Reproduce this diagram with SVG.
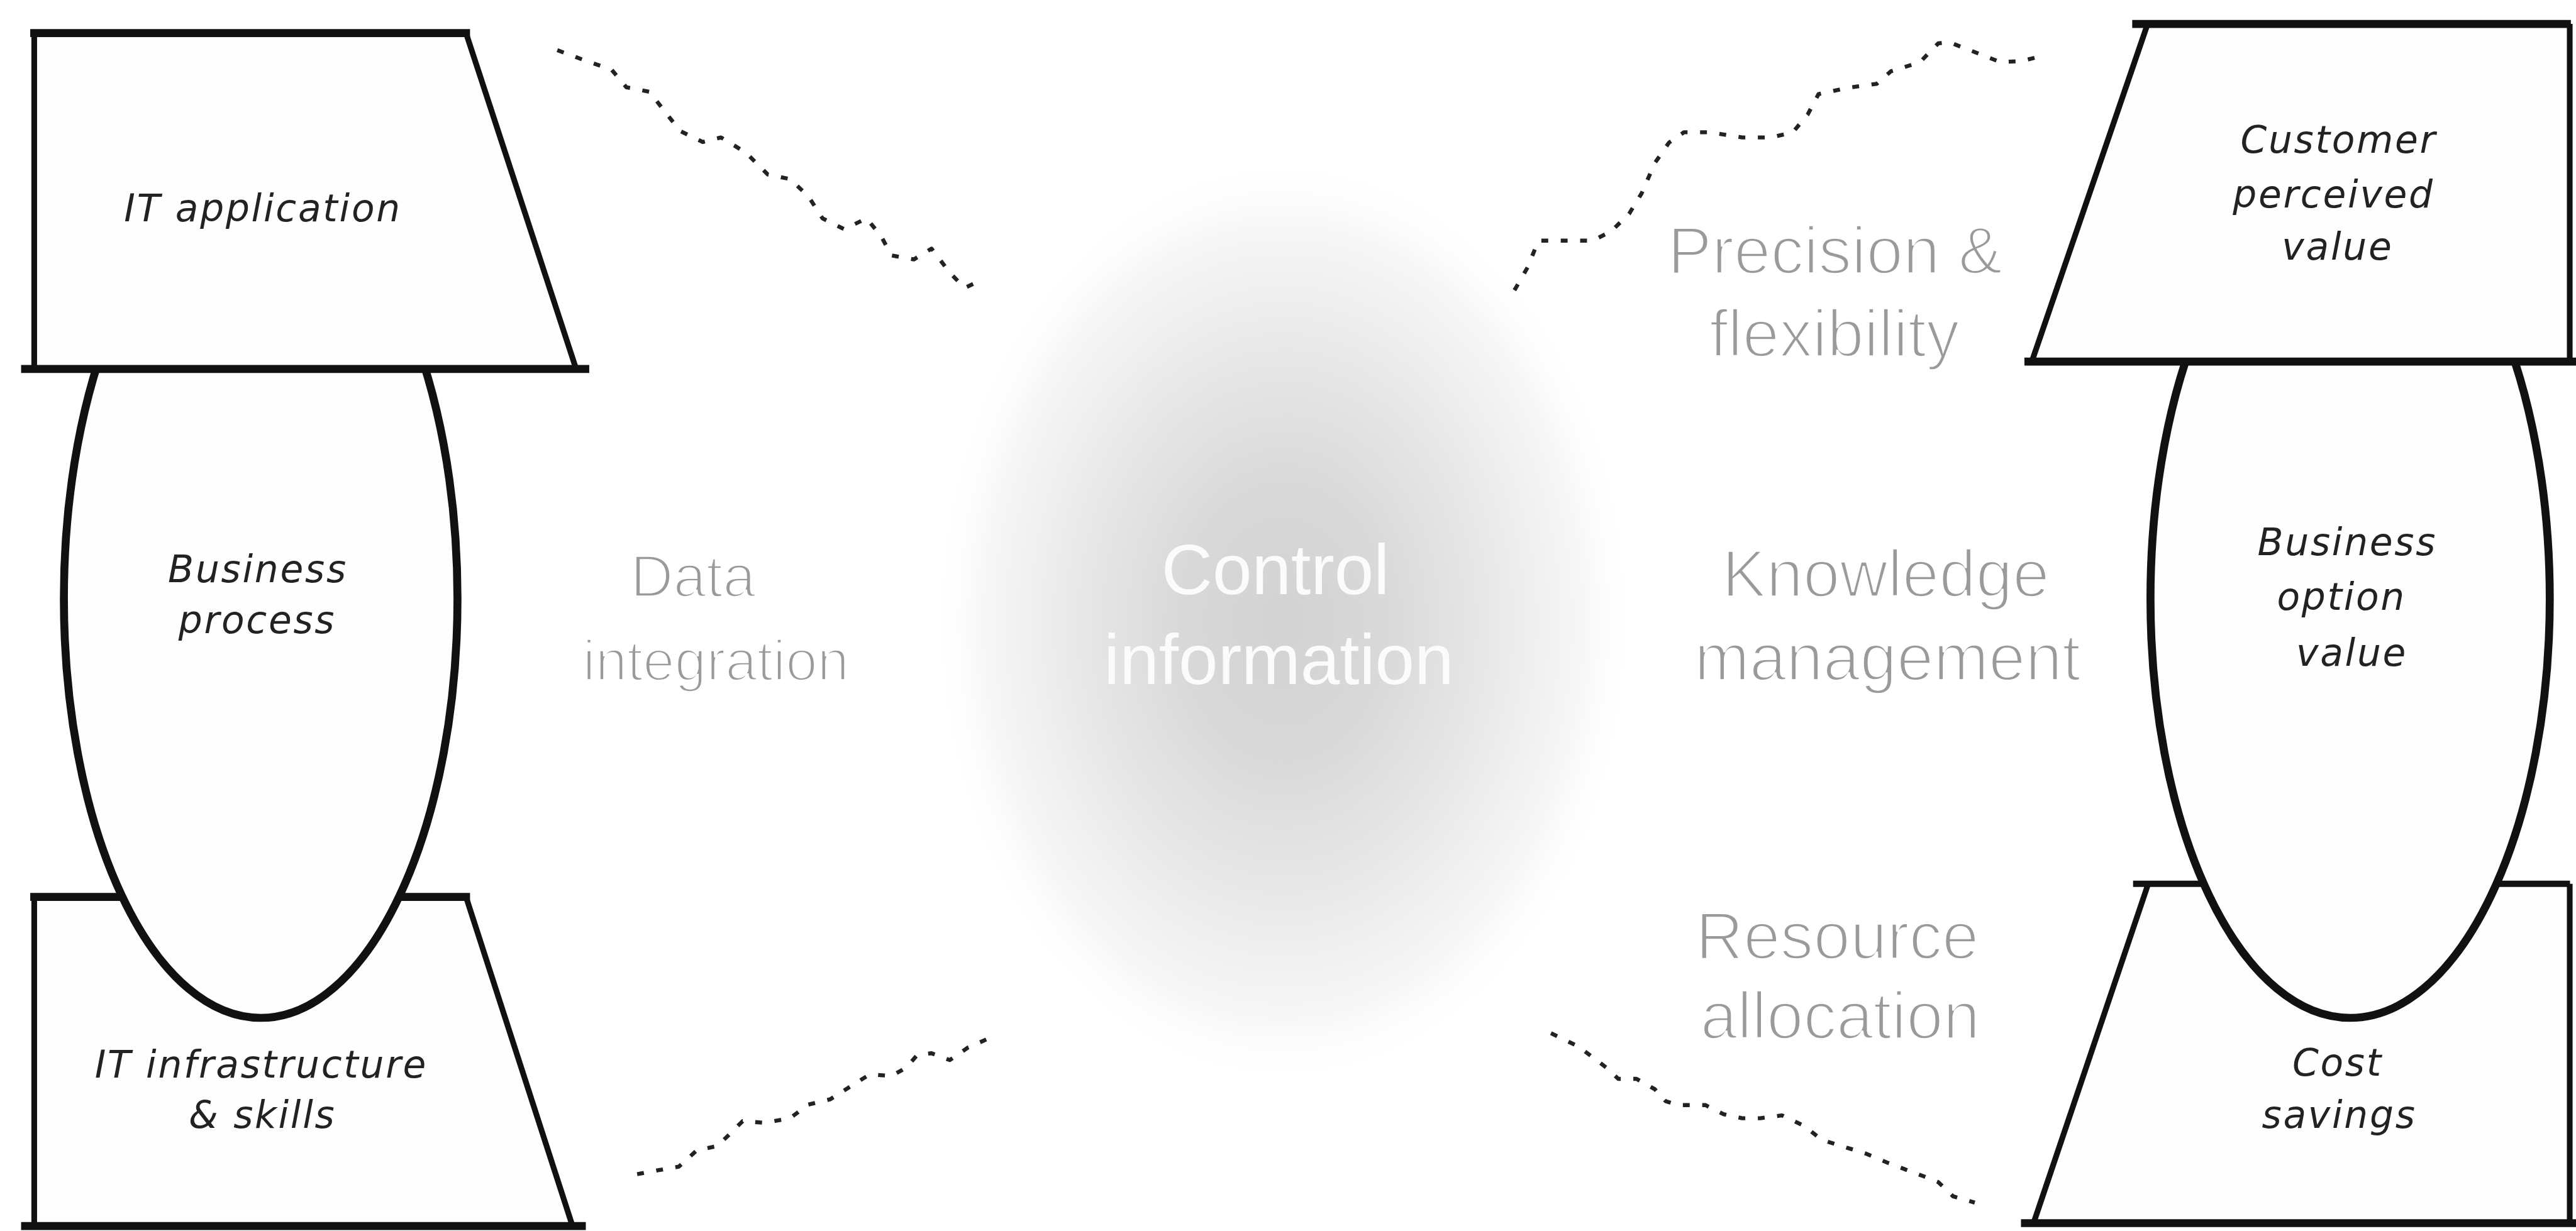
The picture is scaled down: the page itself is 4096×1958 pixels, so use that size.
<svg xmlns="http://www.w3.org/2000/svg" width="4096" height="1958" viewBox="0 0 4096 1958">
<defs>
<radialGradient id="glow" cx="0.5" cy="0.5" r="0.5">
<stop offset="0" stop-color="#d2d2d2"/>
<stop offset="0.3" stop-color="#d9d9d9"/>
<stop offset="0.6" stop-color="#e9e9e9"/>
<stop offset="0.85" stop-color="#f7f7f7"/>
<stop offset="1" stop-color="#ffffff" stop-opacity="0"/>
</radialGradient>
<style>
.edge{stroke:#111;stroke-width:14;stroke-linecap:square;fill:none}
.side{stroke:#111;stroke-width:10;fill:none}
.fillw{fill:#fefefe;stroke:none}
.oval{fill:#fefefe;stroke:#111;stroke-width:14}
.lbl{font-family:"DejaVu Sans","Liberation Sans",sans-serif;font-style:italic;font-size:66px;fill:#222;text-anchor:middle;letter-spacing:3px}
.gray{font-family:"Liberation Sans",Arial,sans-serif;font-size:116px;fill:#9a9a9a;stroke:#ffffff;stroke-width:4;text-anchor:middle}
.ctr{font-family:"Liberation Sans",Arial,sans-serif;font-size:124px;fill:#fbfbfb;text-anchor:middle}
.dash{fill:none;stroke:#222;stroke-width:7;stroke-dasharray:12 22;stroke-linejoin:round}
</style>
</defs>
<rect width="4096" height="1958" fill="#ffffff"/>
<g transform="scale(0.907)">
<g id="control-information">
<ellipse cx="2250" cy="1090" rx="620" ry="820" fill="url(#glow)"/>
<text class="ctr" x="2236" y="1042">Control</text>
<text class="ctr" x="2242" y="1200">information</text>
</g>
<g id="labels">
<text class="gray" x="1215" y="1046" style="font-size:104px">Data</text>
<text class="gray" x="1255" y="1193" style="font-size:100px">integration</text>
<text class="gray" x="3217" y="480">Precision &amp;</text>
<text class="gray" x="3216" y="625">flexibility</text>
<text class="gray" x="3306" y="1046">Knowledge</text>
<text class="gray" x="3309" y="1193">management</text>
<text class="gray" x="3221" y="1681">Resource</text>
<text class="gray" x="3226" y="1821">allocation</text>
</g>
<g id="connectors">
<polyline class="dash" points="977,88 1028,107 1072,122 1098,153 1139,161 1168,199 1193,230 1232,249 1264,241 1308,268 1346,306 1385,314 1417,344 1442,383 1480,402 1519,383 1544,413 1563,448 1602,455 1633,436 1665,478 1691,505 1723,490"/>
<polyline class="dash" points="2655,509 2678,469 2697,422 2741,422 2792,422 2824,406 2856,375 2878,339 2901,286 2926,250 2952,232 2996,232 3054,241 3105,241 3143,232 3169,201 3188,165 3239,154 3290,147 3315,125 3366,109 3398,76 3417,74 3456,89 3507,109 3545,107 3580,98"/>
<polyline class="dash" points="1117,2059 1155,2052 1190,2046 1222,2017 1257,2010 1276,1992 1302,1966 1340,1969 1385,1961 1417,1937 1455,1928 1493,1904 1525,1884 1563,1887 1589,1872 1608,1850 1633,1847 1665,1859 1697,1837 1729,1823"/>
<polyline class="dash" points="2719,1812 2767,1835 2821,1876 2837,1892 2869,1892 2901,1910 2920,1931 2942,1938 2990,1938 3003,1945 3022,1954 3054,1961 3086,1961 3124,1956 3162,1974 3194,1999 3271,2023 3309,2039 3354,2056 3373,2063 3398,2073 3424,2098 3462,2109"/>
</g>
<g id="it-infrastructure">
<polygon class="fillw" points="60,1573 817,1573 1003,2148 60,2148"/>
<line class="side" x1="60" y1="1573" x2="60" y2="2148"/>
<line class="side" x1="817" y1="1573" x2="1003" y2="2148"/>
<line class="edge" x1="60" y1="1573" x2="817" y2="1573"/>
<line class="edge" x1="44" y1="2150" x2="1020" y2="2150"/>
<text class="lbl" x="458" y="1890">IT infrastructure</text>
<text class="lbl" x="460" y="1978">&amp; skills</text>
</g>
<g id="business-process">
<ellipse class="oval" cx="457" cy="1050" rx="345" ry="735"/>
<text class="lbl" x="452" y="1021">Business</text>
<text class="lbl" x="451" y="1110">process</text>
</g>
<g id="it-application">
<polygon class="fillw" points="60,58 817,58 1010,647 60,647"/>
<line class="side" x1="60" y1="58" x2="60" y2="647"/>
<line class="side" x1="817" y1="58" x2="1010" y2="647"/>
<line class="edge" x1="60" y1="58" x2="817" y2="58"/>
<line class="edge" x1="44" y1="647" x2="1026" y2="647"/>
<text class="lbl" x="461" y="388">IT application</text>
</g>
<g id="cost-savings">
<polygon class="fillw" points="3766,1550 4505,1550 4505,2145 3565,2145"/>
<line class="side" x1="4505" y1="1550" x2="4505" y2="2145"/>
<line class="side" x1="3766" y1="1550" x2="3565" y2="2145"/>
<line class="edge" x1="3745" y1="1550" x2="4500" y2="1550" style="stroke-width:11"/>
<line class="edge" x1="3550" y1="2145" x2="4514" y2="2145"/>
<text class="lbl" x="4098" y="1886">Cost</text>
<text class="lbl" x="4101" y="1978">savings</text>
</g>
<g id="business-option-value">
<ellipse class="oval" cx="4120" cy="1050" rx="350" ry="735"/>
<text class="lbl" x="4115" y="973">Business</text>
<text class="lbl" x="4105" y="1069">option</text>
<text class="lbl" x="4123" y="1168">value</text>
</g>
<g id="customer-perceived-value">
<polygon class="fillw" points="3765,42 4505,42 4505,634 3562,634"/>
<line class="side" x1="4505" y1="42" x2="4505" y2="634"/>
<line class="side" x1="3765" y1="42" x2="3562" y2="634"/>
<line class="edge" x1="3745" y1="42" x2="4500" y2="42"/>
<line class="edge" x1="3556" y1="634" x2="4514" y2="634"/>
<text class="lbl" x="4100" y="268">Customer</text>
<text class="lbl" x="4091" y="364">perceived</text>
<text class="lbl" x="4098" y="455">value</text>
</g>
</g>
</svg>
